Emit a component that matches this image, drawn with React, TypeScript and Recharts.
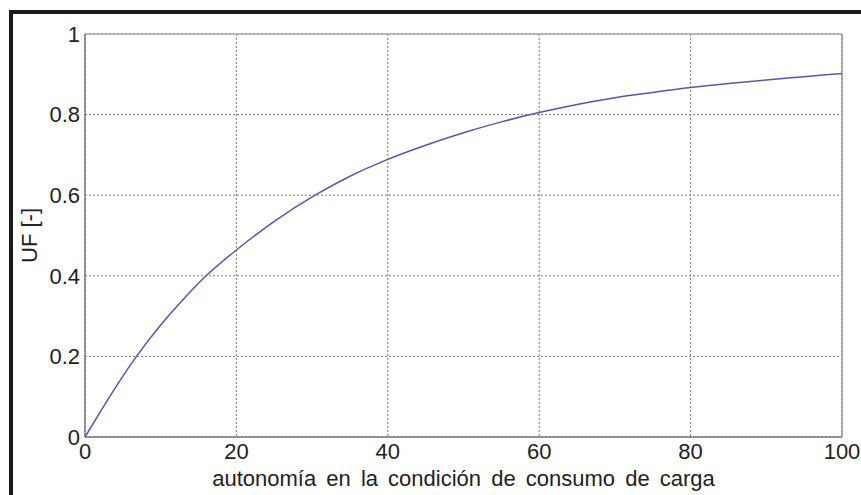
import { LineChart, Line, XAxis, YAxis, CartesianGrid, ReferenceLine } from "recharts";

// values
const autonomia = [0, 2, 4, 6.8, 10, 13, 16, 20, 25, 30.4, 35, 40, 45, 50, 55, 60, 65, 70, 75, 80, 85, 90, 95, 100];
const uf = [0, 0.062, 0.122, 0.2, 0.278, 0.342, 0.4, 0.464, 0.535, 0.6, 0.647, 0.689, 0.724, 0.755, 0.782, 0.805, 0.825, 0.842, 0.855, 0.867, 0.877, 0.886, 0.894, 0.902];
const xTicks = [0, 20, 40, 60, 80, 100];
const yTicks = [0, 0.2, 0.4, 0.6, 0.8, 1];
const xLabel = "autonomía en la condición de consumo de carga";
const yLabel = "UF [-]";

const data = autonomia.map((x, i) => ({ x, uf: uf[i] }));

const FONT = "'Liberation Sans', Arial, Helvetica, sans-serif";
const TEXT = "#222";

const App = () => {
  return (
    <div
      style={{
        position: "absolute",
        top: 0,
        left: 0,
        width: 861,
        height: 495,
        background: "#fff",
        overflow: "hidden",
        fontFamily: FONT,
      }}
    >
      <div
        style={{
          position: "absolute",
          left: 9,
          top: 10,
          width: 900,
          height: 520,
          borderLeft: "4px solid #1a1a1a",
          borderTop: "4px solid #1a1a1a",
        }}
      />
      <div style={{ position: "absolute", top: 0, left: 0 }}>
        <LineChart
          width={861}
          height={495}
          data={data}
          margin={{ top: 34, right: 19, left: 25, bottom: 0 }}
        >
          <CartesianGrid
            stroke='#777'
            strokeDasharray='2 2'
            horizontalValues={yTicks}
            verticalValues={xTicks}
          />
          <XAxis
            dataKey='x'
            type='number'
            domain={[0, 100]}
            ticks={xTicks}
            height={58}
            tickSize={0}
            tickMargin={6}
            tickLine={false}
            axisLine={{ stroke: "#777", strokeWidth: 1.5 }}
            tick={{ fontSize: 22, fill: TEXT, fontFamily: FONT }}
            label={{
              value: xLabel,
              position: "insideBottom",
              offset: 9,
              fontSize: 22,
              fill: TEXT,
              fontFamily: FONT,
              wordSpacing: 4,
            }}
          />
          <YAxis
            type='number'
            domain={[0, 1]}
            ticks={yTicks}
            width={60}
            tickSize={0}
            tickMargin={5}
            tickLine={false}
            axisLine={{ stroke: "#777", strokeWidth: 1.5 }}
            tick={{ fontSize: 22, fill: TEXT, fontFamily: FONT }}
            label={{
              content: (props: any) => {
                const vb = props.viewBox || {};
                const cx = vb.x + 12;
                const cy = vb.y + vb.height / 2;
                return (
                  <text
                    x={cx}
                    y={cy}
                    transform={`rotate(-90 ${cx} ${cy})`}
                    textAnchor='middle'
                    fontSize={22}
                    fill={TEXT}
                    fontFamily={FONT}
                  >
                    {yLabel}
                  </text>
                );
              },
            }}
          />
          <ReferenceLine y={1} stroke='#aaa' strokeWidth={1.5} />
          <ReferenceLine x={100} stroke='#999' strokeWidth={1.5} />
          <Line
            type='monotone'
            dataKey='uf'
            stroke='#5656b0'
            strokeWidth={1.5}
            dot={false}
            isAnimationActive={false}
          />
        </LineChart>
      </div>
    </div>
  );
};

export default App;
